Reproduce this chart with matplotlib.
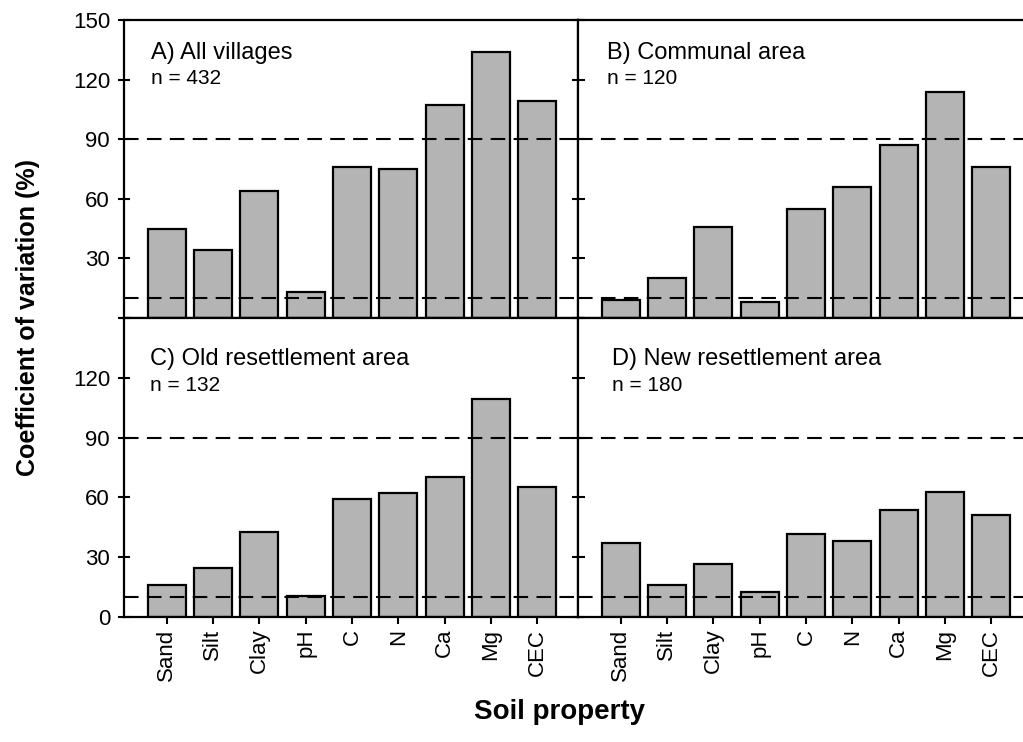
import numpy as np
import matplotlib.pyplot as plt

plt.rcParams['font.family'] = ['Liberation Sans', 'DejaVu Sans']

properties = ['Sand', 'Silt', 'Clay', 'pH', 'C', 'N', 'Ca', 'Mg', 'CEC']
cv_all = [45, 34, 64, 13, 76, 75, 107, 134, 109]
cv_communal = [9, 20, 46, 8, 55, 66, 87, 114, 76]
cv_old = [16, 24.5, 42.5, 10.5, 59, 62, 70, 109.5, 65]
cv_new = [37, 16, 26.5, 12.5, 41.5, 38, 53.5, 62.5, 51]
panel_titles = ['A) All villages', 'B) Communal area',
                'C) Old resettlement area', 'D) New resettlement area']
sample_sizes = [432, 120, 132, 180]
thresholds = [10, 90]

fig = plt.figure(figsize=(10.23, 7.42), dpi=100)
W, H = 1023.0, 742.0

def px_axes(x0, y0, x1, y1):
    # pixel box (from top-left) -> figure axes
    return fig.add_axes([x0 / W, 1 - y1 / H, (x1 - x0) / W, (y1 - y0) / H])

axA = px_axes(124, 20, 578, 318)
axB = px_axes(578, 20, 1032, 318)
axC = px_axes(124, 318, 578, 617)
axD = px_axes(578, 318, 1032, 617)
axes = [axA, axB, axC, axD]
data = [cv_all, cv_communal, cv_old, cv_new]
label_pos = [(0.06, 0.869, 0.785), (0.063, 0.869, 0.785),
             (0.058, 0.843, 0.756), (0.074, 0.843, 0.756)]

x = np.arange(len(properties))
for i, ax in enumerate(axes):
    ax.bar(x, data[i], width=0.82, color='#b4b4b4', edgecolor='black',
           linewidth=1.6, zorder=2)
    for t in thresholds:
        ax.axhline(t, color='black', linestyle=(0, (7, 4)), linewidth=1.5, zorder=3)
    ax.set_xlim(-0.92, 8.88)
    ax.set_ylim(0, 150)
    ax.set_yticks([0, 30, 60, 90, 120, 150])
    for sp in ax.spines.values():
        sp.set_linewidth(1.6)
        sp.set_zorder(4)
    lx, ly1, ly2 = label_pos[i]
    ax.text(lx, ly1, panel_titles[i], transform=ax.transAxes, fontsize=17,
            va='baseline', ha='left')
    ax.text(lx, ly2, 'n = %d' % sample_sizes[i], transform=ax.transAxes,
            fontsize=15, va='baseline', ha='left')
    ax.set_xticks(x)
    ax.tick_params(axis='x', direction='out', length=5, width=1.5)
    if i < 2:
        ax.set_xticklabels([])
    else:
        ax.set_xticklabels(properties, rotation=90, fontsize=16)
    if i % 2 == 0:
        ax.tick_params(axis='y', direction='inout', length=8, width=1.5,
                       right=True, labelsize=16, pad=6)
    else:
        ax.tick_params(axis='y', direction='in', length=5, width=1.5,
                       labelleft=False)

axA.set_yticklabels(['', '30', '60', '90', '120', '150'])
axC.set_yticklabels(['0', '30', '60', '90', '120', ''])

fig.text(28 / W, 1 - 318 / H, 'Coefficient of variation (%)', rotation=90,
         fontsize=18, fontweight='bold', ha='center', va='center')
fig.text(560 / W, 1 - 712 / H, 'Soil property', fontsize=20,
         fontweight='bold', ha='center', va='center')

fig.savefig('out.png', dpi=100)
